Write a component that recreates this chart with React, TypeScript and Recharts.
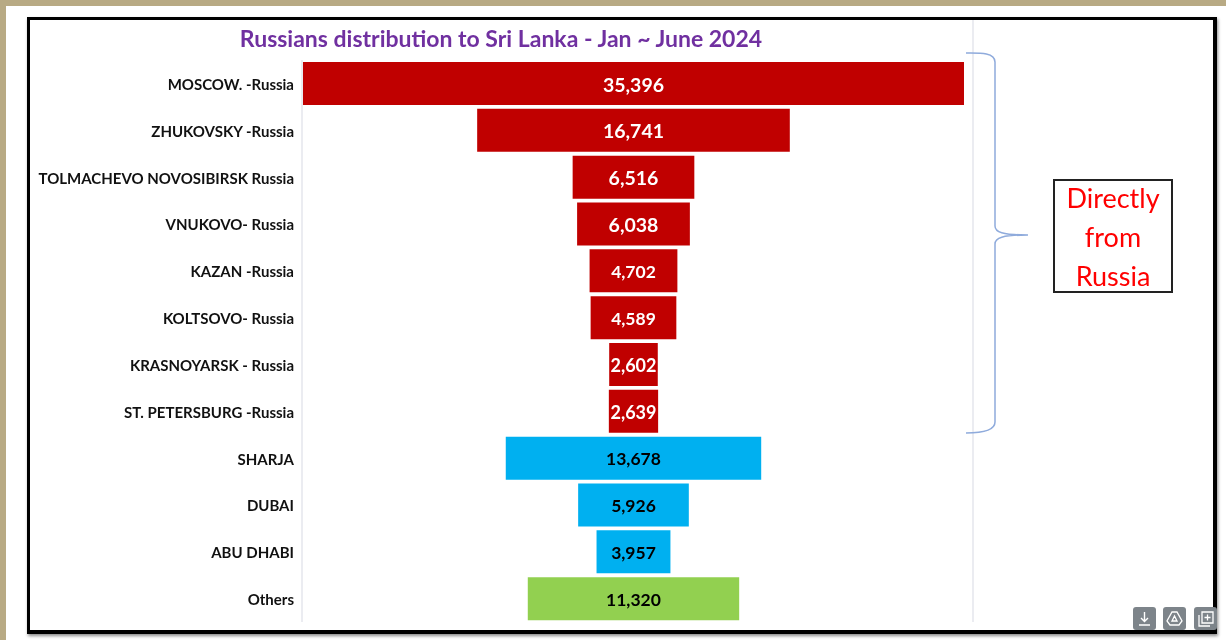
import React from "react";
import { BarChart, Bar, XAxis, YAxis, Cell, LabelList, ReferenceLine } from "recharts";

const categories = [
  "MOSCOW. -Russia",
  "ZHUKOVSKY -Russia",
  "TOLMACHEVO NOVOSIBIRSK Russia",
  "VNUKOVO- Russia",
  "KAZAN -Russia",
  "KOLTSOVO- Russia",
  "KRASNOYARSK - Russia",
  "ST. PETERSBURG -Russia",
  "SHARJA",
  "DUBAI",
  "ABU DHABI",
  "Others",
];
const values = [35396, 16741, 6516, 6038, 4702, 4589, 2602, 2639, 13678, 5926, 3957, 11320];
const groups = ["russia", "russia", "russia", "russia", "russia", "russia", "russia", "russia", "gulf", "gulf", "gulf", "other"];
const title = "Russians distribution to Sri Lanka - Jan ~ June 2024";
const noteLines = ["Directly", "from", "Russia"];

const groupFill: Record<string, string> = { russia: "#c00000", gulf: "#00b0f0", other: "#92d050" };
const groupText: Record<string, string> = { russia: "#ffffff", gulf: "#000000", other: "#000000" };
const labelSizes = [19.5, 19.5, 19.5, 19.5, 17.5, 17.5, 18, 18, 17.5, 17.5, 17.5, 17.5];

const rows = categories.map((name, i) => ({ name, value: values[i], group: groups[i] }));
const DOMAIN_MIN = -17750;
const DOMAIN_MAX = 18180;
const FONT = "Lato, 'Open Sans', sans-serif";

const centredRange = (d: { value: number }) => [-d.value / 2, d.value / 2];

const ValueLabel = (p: any) => {
  const { x, y, width, height, value, index } = p;
  return (
    <text
      x={x + width / 2}
      y={y + height / 2 + 0.5}
      textAnchor="middle"
      dominantBaseline="central"
      fontFamily={FONT}
      fontWeight={700}
      fontSize={labelSizes[index]}
      fill={groupText[groups[index]]}
    >
      {Number(value).toLocaleString("en-US")}
    </text>
  );
};

const Tick = (p: any) => {
  const { x, y, payload } = p;
  return (
    <text
      x={x}
      y={y + 0.5}
      textAnchor="end"
      dominantBaseline="central"
      fontFamily={FONT}
      fontWeight={700}
      fontSize={15}
      fill="#111"
    >
      {payload.value}
    </text>
  );
};

const Icon = ({ x, kind }: { x: number; kind: number }) => (
  <g transform={`translate(${x},607)`}>
    <rect width={23} height={23} rx={3} fill="#7d848a" />
    {kind === 0 && (
      <path d="M11.5 5v9M8 11l3.5 3.5L15 11M6 18h11" fill="none" stroke="#fff" strokeWidth={1.4} />
    )}
    {kind === 1 && (
      <path d="M9 5h5l5 9-3 4H7l-3-4zM9 14h5l-2.500-5z" fill="none" stroke="#fff" strokeWidth={1.3} />
    )}
    {kind === 2 && (
      <path d="M8 5h11v11H8zM5 8v11h11M13.500 7.500v6M10.500 10.500h6" fill="none" stroke="#fff" strokeWidth={1.3} />
    )}
  </g>
);

export default function App() {
  return (
    <div style={{ position: "absolute", left: 0, top: 0, width: 1226, height: 640, background: "#b8aa84", overflow: "hidden" }}>
      <div style={{ position: "absolute", left: 0, top: 0, width: 1226, height: 640, filter: "blur(0.45px)" }}>
        <div style={{ position: "absolute", left: 6, top: 6, width: 1220, height: 634, background: "#ffffff" }} />
        <div
          style={{
            position: "absolute",
            left: 27,
            top: 17,
            width: 1190,
            height: 617,
            boxSizing: "border-box",
            borderStyle: "solid",
            borderColor: "#000",
            borderWidth: "3px 4px 4px 3px",
            boxShadow: "1px 2px 3px rgba(0,0,0,0.45)",
            background: "#fff",
          }}
        />
        <div style={{ position: "absolute", left: 0, top: 0 }}>
          <BarChart
            width={1226}
            height={640}
            data={rows}
            layout="vertical"
            margin={{ top: 60, right: 253, bottom: 18, left: 0 }}
            barCategoryGap={0}
          >
            <XAxis type="number" domain={[DOMAIN_MIN, DOMAIN_MAX]} hide />
            <YAxis
              type="category"
              dataKey="name"
              width={302}
              interval={0}
              tickLine={false}
              tickMargin={2}
              axisLine={{ stroke: "#e4e6ec", strokeWidth: 1.5 }}
              tick={Tick}
            />
            <ReferenceLine x={DOMAIN_MAX} stroke="#e4e6ec" strokeWidth={1.5} />
            <Bar dataKey={centredRange} barSize={43} isAnimationActive={false}>
              {rows.map((r) => (
                <Cell key={r.name} fill={groupFill[r.group]} />
              ))}
              <LabelList dataKey="value" content={ValueLabel} />
            </Bar>
          </BarChart>
        </div>
        <div
          style={{
            position: "absolute",
            left: 201,
            width: 600,
            top: 23,
            textAlign: "center",
            fontFamily: FONT,
            fontWeight: 700,
            fontSize: 23,
            lineHeight: "30px",
            color: "#7030a0",
            whiteSpace: "nowrap",
          }}
        >
          {title}
        </div>
        <svg width={1226} height={640} style={{ position: "absolute", left: 0, top: 0 }}>
          <path d="M973 20V60" stroke="#e4e6ec" strokeWidth={1.5} />
          <path
            d="M966 53 C978 53 995 52 995 62 L995 226 C995 232 1002 235 1028 235 C1002 235 995 238 995 244 L995 422 C995 431 980 433 966 433"
            fill="none"
            stroke="#8fabdc"
            strokeWidth={1.5}
          />
          <Icon x={1133} kind={0} />
          <Icon x={1163} kind={1} />
          <Icon x={1194} kind={2} />
        </svg>
        <div
          style={{
            position: "absolute",
            left: 1053,
            top: 179,
            width: 120,
            height: 114,
            boxSizing: "border-box",
            border: "2px solid #222",
            background: "#fff",
            textAlign: "center",
            fontFamily: FONT,
            fontSize: 27,
            lineHeight: "39px",
            color: "#ff0000",
          }}
        >
          <div style={{ marginTop: -3 }}>
            {noteLines.map((l) => (
              <div key={l}>{l}</div>
            ))}
          </div>
        </div>
      </div>
    </div>
  );
}
